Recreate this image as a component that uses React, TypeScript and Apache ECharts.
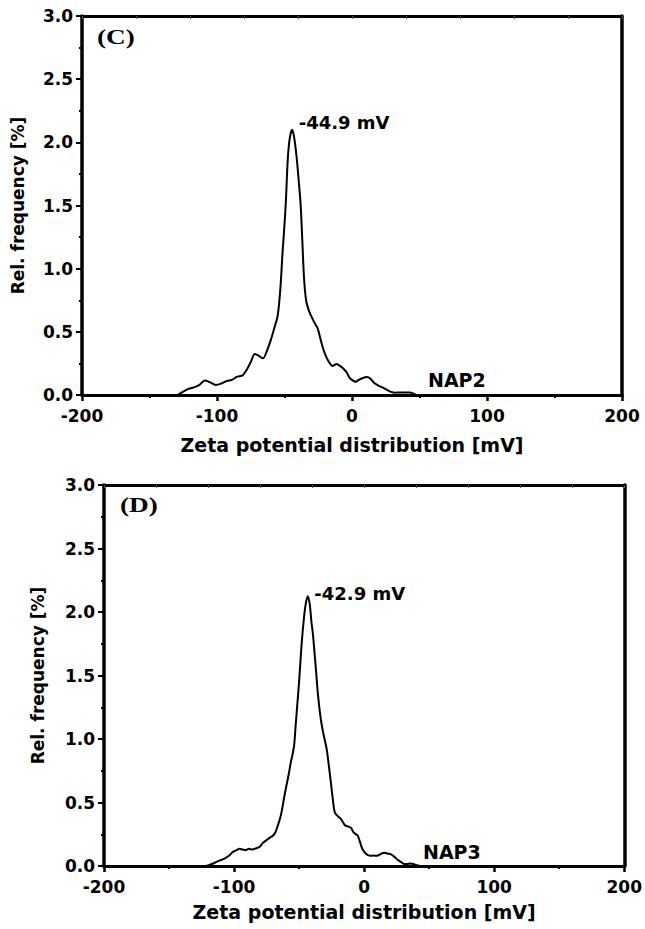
import React, { useEffect, useRef } from "react";
import * as echarts from "echarts";

// ---- data ----
const X_MIN = -200;
const X_MAX = 200;
const Y_MIN = 0;
const Y_MAX = 3;

// NAP2 zeta potential distribution: [mV, rel. frequency %]
const nap2Data: [number, number][] = [
  [-200, 0], [-130, 0], [-126, 0.02], [-122, 0.045], [-117, 0.06], [-113, 0.08],
  [-109, 0.115], [-105, 0.1], [-101, 0.08], [-97, 0.09], [-93, 0.11], [-89, 0.12],
  [-85, 0.145], [-81, 0.155], [-78, 0.2], [-75, 0.26], [-72, 0.325], [-69, 0.31],
  [-66, 0.29], [-63, 0.35], [-60, 0.44], [-57, 0.55], [-55, 0.63], [-53, 0.85],
  [-51.5, 1.12], [-50, 1.35], [-49, 1.53], [-47.5, 1.88], [-46, 2.04], [-44.3, 2.1],
  [-42.7, 2.03], [-41, 1.88], [-39.5, 1.7], [-38, 1.5], [-36.8, 1.22], [-35.5, 0.92],
  [-34, 0.75], [-32, 0.67], [-30, 0.62], [-27.7, 0.57], [-25.5, 0.53], [-23.5, 0.45],
  [-21.5, 0.37], [-19, 0.3], [-17, 0.26], [-14.5, 0.23], [-11.5, 0.245], [-9, 0.23],
  [-6.5, 0.21], [-4, 0.18], [-2, 0.14], [0, 0.12], [2.7, 0.105], [5, 0.12],
  [8, 0.135], [11, 0.142], [13.5, 0.13], [16.5, 0.095], [19.5, 0.075], [22.5, 0.06],
  [26, 0.04], [29, 0.025], [32, 0.018], [36, 0.02], [40, 0.02], [43, 0.02],
  [45.5, 0.01], [48, 0], [200, 0],
];

// NAP3 zeta potential distribution: [mV, rel. frequency %]
const nap3Data: [number, number][] = [
  [-200, 0], [-122, 0], [-119, 0.008], [-116, 0.02], [-113, 0.035], [-110, 0.047],
  [-107, 0.06], [-104, 0.08], [-101, 0.11], [-98, 0.125], [-96, 0.135], [-93.5, 0.13],
  [-91, 0.125], [-88.5, 0.135], [-86, 0.13], [-83, 0.14], [-80.5, 0.15], [-78, 0.18],
  [-75.5, 0.2], [-73, 0.22], [-70, 0.24], [-68, 0.27], [-66.3, 0.32], [-64.5, 0.38],
  [-63, 0.45], [-61.5, 0.54], [-60, 0.62], [-58, 0.72], [-56.3, 0.82], [-55, 0.88],
  [-53.8, 0.95], [-52.7, 1.1], [-51.7, 1.23], [-50, 1.45], [-48.4, 1.7], [-46.4, 1.94],
  [-44.8, 2.07], [-43.3, 2.125], [-41.8, 2.06], [-40.5, 1.92], [-39.5, 1.84], [-38.3, 1.7],
  [-37, 1.54], [-35.5, 1.35], [-33.5, 1.17], [-31.5, 1.05], [-28.8, 0.92], [-27, 0.78],
  [-25.6, 0.66], [-24, 0.52], [-22.5, 0.42], [-20, 0.39], [-17.8, 0.37], [-16, 0.34],
  [-14.7, 0.32], [-12, 0.31], [-10, 0.3], [-8.5, 0.27], [-7, 0.255], [-5, 0.24],
  [-3.5, 0.2], [-2, 0.15], [-0.5, 0.12], [1, 0.1], [3, 0.085], [5, 0.08],
  [7.2, 0.082], [9.5, 0.08], [12, 0.09], [14, 0.1], [15.6, 0.105], [18, 0.098],
  [21, 0.09], [23.5, 0.07], [26, 0.047], [28.5, 0.03], [30.6, 0.016], [33, 0.015],
  [35.3, 0.02], [38, 0.015], [40, 0.008], [43, 0], [200, 0],
];

const peakC: [number, number] = [-44.3, 2.1];
const peakD: [number, number] = [-43.3, 2.125];
const peakLabelC = "-44.9 mV";
const peakLabelD = "-42.9 mV";
const panelLabels = ["(C)", "(D)"];
const sampleLabels = ["NAP2", "NAP3"];
const xTitle = "Zeta potential distribution [mV]";
const yTitle = "Rel. frequency [%]";

const SANS = '"DejaVu Sans"';
const BLACK = "#000";

function bottomX(gi: number, nameGap: number) {
  return {
    gridIndex: gi,
    type: "value",
    min: X_MIN,
    max: X_MAX,
    interval: 100,
    position: "bottom",
    name: xTitle,
    nameLocation: "middle",
    nameGap,
    nameTextStyle: { color: BLACK, fontFamily: SANS, fontWeight: "bold", fontSize: 19 },
    axisLine: { show: true, onZero: false, lineStyle: { color: BLACK, width: 3 } },
    axisTick: { show: true, inside: false, length: 6, lineStyle: { color: BLACK, width: 2.5 } },
    minorTick: { show: true, splitNumber: 2, length: 3, lineStyle: { color: BLACK, width: 2 } },
    axisLabel: { color: BLACK, fontFamily: SANS, fontWeight: "bold", fontSize: 17, margin: 12 },
    splitLine: { show: false },
    minorSplitLine: { show: false },
  };
}

function topX(gi: number) {
  return {
    gridIndex: gi,
    type: "value",
    min: X_MIN,
    max: X_MAX,
    interval: 40,
    position: "top",
    axisLine: { show: true, onZero: false, lineStyle: { color: BLACK, width: 3 } },
    axisTick: { show: true, inside: true, length: 3, lineStyle: { color: "#555", width: 1 } },
    axisLabel: { show: false },
    splitLine: { show: false },
  };
}

function leftY(gi: number, nameGap: number) {
  return {
    gridIndex: gi,
    type: "value",
    min: Y_MIN,
    max: Y_MAX,
    interval: 0.5,
    position: "left",
    name: yTitle,
    nameLocation: "middle",
    nameRotate: 90,
    nameGap,
    nameTextStyle: { color: BLACK, fontFamily: SANS, fontWeight: "bold", fontSize: 17 },
    axisLine: { show: true, onZero: false, lineStyle: { color: BLACK, width: 3.5 } },
    axisTick: { show: true, inside: false, length: 6, lineStyle: { color: BLACK, width: 2 } },
    minorTick: { show: true, splitNumber: 2, length: 3, lineStyle: { color: BLACK, width: 2 } },
    axisLabel: {
      color: BLACK,
      fontFamily: SANS,
      fontWeight: "bold",
      fontSize: 17,
      margin: 9,
      formatter: (v: number) => v.toFixed(1),
    },
    splitLine: { show: false },
    minorSplitLine: { show: false },
  };
}

function rightY(gi: number) {
  return {
    gridIndex: gi,
    type: "value",
    min: Y_MIN,
    max: Y_MAX,
    interval: 0.5,
    position: "right",
    axisLine: { show: true, onZero: false, lineStyle: { color: BLACK, width: 3.5 } },
    axisTick: { show: false },
    axisLabel: { show: false },
    splitLine: { show: false },
  };
}

function curve(xi: number, yi: number, data: [number, number][], peak: [number, number], label: string, offset: number[]) {
  return {
    type: "line",
    xAxisIndex: xi,
    yAxisIndex: yi,
    data,
    showSymbol: false,
    smooth: 0.3,
    lineStyle: { color: BLACK, width: 2 },
    markPoint: {
      symbol: "circle",
      symbolSize: 1,
      itemStyle: { color: "rgba(0,0,0,0)" },
      data: [{ coord: peak }],
      label: {
        show: true,
        position: "right",
        distance: 5,
        offset,
        formatter: label,
        color: BLACK,
        fontFamily: SANS,
        fontWeight: "bold",
        fontSize: 18,
      },
    },
  };
}

export default function App() {
  const ref = useRef<HTMLDivElement>(null);

  useEffect(() => {
    if (!ref.current) return;
    const chart = echarts.init(ref.current, null, { renderer: "svg" });
    const option = {
      animation: false,
      backgroundColor: "#fff",
      grid: [
        { left: 82, top: 16, width: 540, height: 379 },
        { left: 104, top: 485, width: 526, height: 381 },
      ],
      xAxis: [bottomX(0, 40), topX(0), bottomX(1, 36), topX(1)],
      yAxis: [leftY(0, 56), rightY(0), leftY(1, 58), rightY(1)],
      series: [
        curve(0, 0, nap2Data, peakC, peakLabelC, [1, -7]),
        curve(2, 2, nap3Data, peakD, peakLabelD, [1, -3]),
      ],
      graphic: [
        {
          type: "text",
          x: 97,
          y: 37,
          scaleX: 1.3,
          style: { text: panelLabels[0], font: 'bold 21px "Liberation Serif"', fill: BLACK, align: "left", verticalAlign: "middle" },
        },
        {
          type: "text",
          x: 120,
          y: 505,
          scaleX: 1.3,
          style: { text: panelLabels[1], font: 'bold 21px "Liberation Serif"', fill: BLACK, align: "left", verticalAlign: "middle" },
        },
        {
          type: "text",
          x: 428,
          y: 380,
          style: { text: sampleLabels[0], font: 'bold 19px "DejaVu Sans"', fill: BLACK, align: "left", verticalAlign: "middle" },
        },
        {
          type: "text",
          x: 423,
          y: 852,
          style: { text: sampleLabels[1], font: 'bold 19px "DejaVu Sans"', fill: BLACK, align: "left", verticalAlign: "middle" },
        },
      ],
    };
    chart.setOption(option as any);
    return () => chart.dispose();
  }, []);

  return (
    <div
      ref={ref}
      style={{ position: "absolute", left: 0, top: 0, width: 645, height: 929, background: "#fff" }}
    />
  );
}
